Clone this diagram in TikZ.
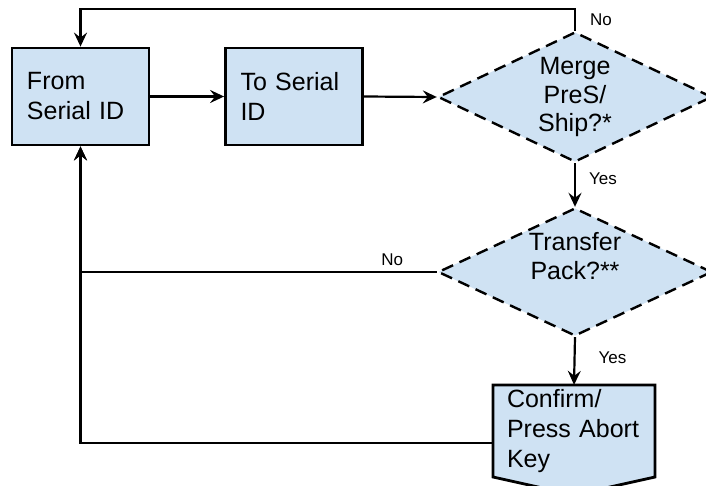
\documentclass[tikz,border=0pt]{standalone}
\usepackage{fontspec}
\setmainfont{Liberation Sans}
\usetikzlibrary{shapes.geometric,arrows.meta}
\definecolor{boxblue}{HTML}{CFE2F3}
\begin{document}
\begin{tikzpicture}[x=1pt,y=-1pt,>={Stealth[length=14pt,width=13pt,inset=5pt]},
	every node/.style={font=\fontsize{25}{30}\selectfont},
	proc/.style={rectangle,draw,line width=2.8pt,fill=boxblue,minimum width=137pt,minimum height=97pt,inner xsep=15pt,text width=107pt,align=left},
	decis/.style={diamond,draw,dash pattern=on 12pt off 7pt,line width=2.4pt,fill=boxblue,aspect=2.1,inner sep=0pt,minimum width=274pt,minimum height=130pt,align=center,font=\fontsize{25}{28.5}\selectfont},
	lbl/.style={font=\fontsize{17}{20}\selectfont,inner sep=0pt},
	line/.style={line width=2.2pt}]
	\useasboundingbox (0,0) rectangle (706,485);
	\node[proc] (from) at (80.5,96.5) {From\\Serial ID};
	\node[proc] (to) at (294,96.5) {To Serial\\ID};
	\node[decis] (merge) at (575,97) {Merge\\PreS/\\Ship?*};
	\node[decis,minimum height=128pt] (transfer) at (575,272) {};
	\node[align=center,font=\fontsize{25}{28.5}\selectfont] (transfertext) at (575,256) {Transfer\\Pack?**};
	\draw[line width=2.8pt,fill=boxblue] (493,385)--(655,385)--(655,477)--(574,495)--(493,477)--cycle;
	\node[minimum width=162pt,minimum height=92pt,inner xsep=14pt,text width=134pt,align=left] (confirm) at (574,431) {Confirm/\\Press Abort\\Key};
	\draw[line,->] (from.east)--(to.west);
	\draw[line,->] (to.east)--(merge.west);
	\draw[line,->] (merge.north)--++(0,-22)node[lbl,midway,right=14pt]{No} -| (from.north);
	\draw[line,->] (merge.south)--node[lbl,pos=0.35,right=13pt]{Yes} (transfer.north);
	\draw[line,->] (transfer.west) -| node[lbl,pos=0.0625,above=5pt]{No} (from.south);
	\draw[line,->] (transfer.south)--node[lbl,pos=0.43,right=23pt]{Yes} (confirm.north);
	\draw[line,->] ([yshift=-12pt]confirm.west) -| (from.south);
\end{tikzpicture}
\end{document}
